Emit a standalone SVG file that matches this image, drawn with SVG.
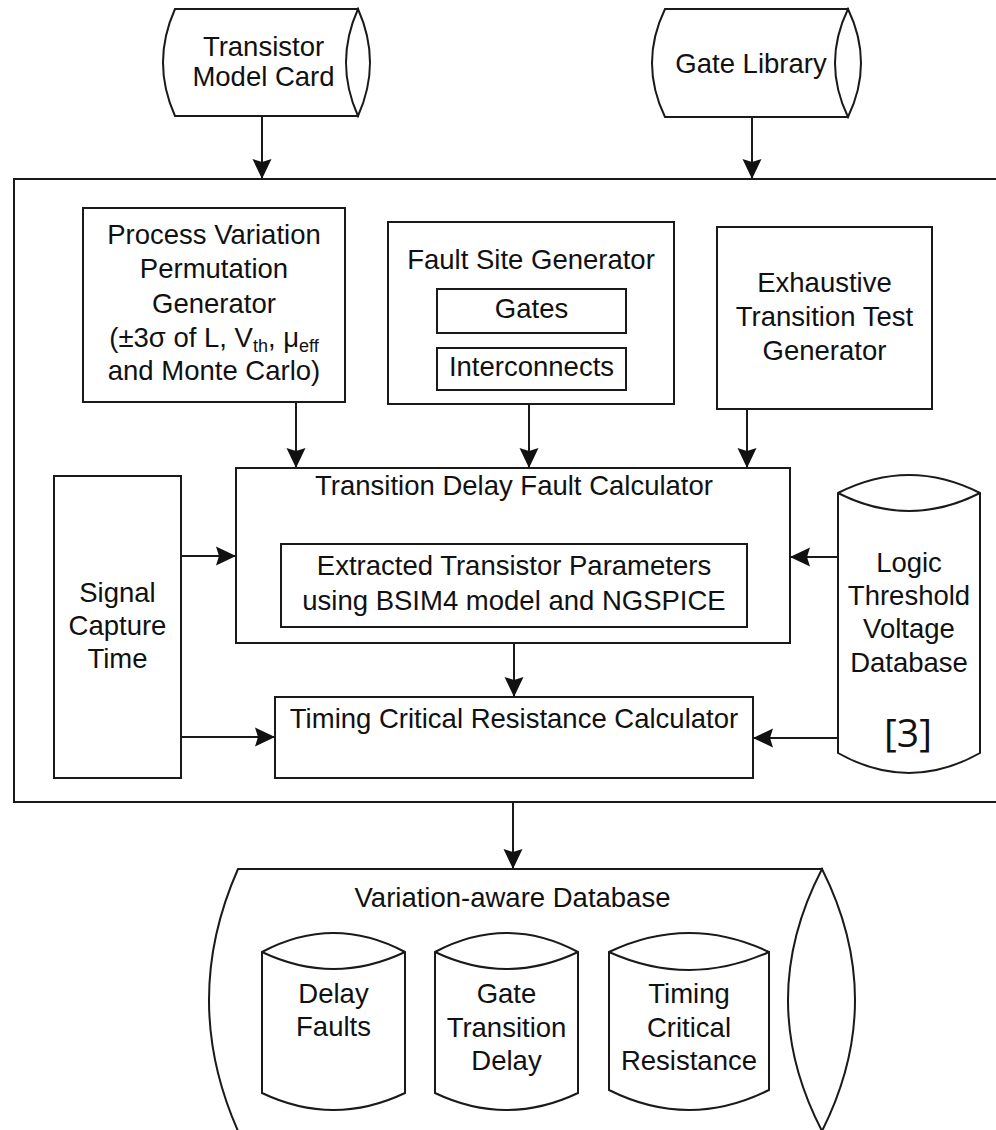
<svg xmlns="http://www.w3.org/2000/svg" width="996" height="1130" viewBox="0 0 996 1130">
<defs>
<style>
.s{fill:#fff;stroke:#1a1a1a;stroke-width:2;stroke-linejoin:miter}
.n{fill:none;stroke:#1a1a1a;stroke-width:2}
.t{font-family:"Liberation Sans",Arial,sans-serif;font-size:27.5px;fill:#111;text-anchor:middle}
.sub{font-size:18px}
.c{stroke:#1a1a1a;stroke-width:2;fill:none;marker-end:url(#ah)}
</style>
<marker id="ah" viewBox="0 0 20 20" refX="20" refY="10" markerWidth="20" markerHeight="20" markerUnits="userSpaceOnUse" orient="auto">
<path d="M0,0.5 L20,10 L0,19.5 L3,10 Z" fill="#111"/>
</marker>
</defs>
<rect width="996" height="1130" fill="#fff"/>

<g id="outer">
<rect class="n" x="14" y="179" width="1000" height="623"/>
</g>

<g id="transistor-model-card">
<path class="s" d="M175,9 H358 V116 H175 Q151,62.5 175,9 Z"/>
<path class="s" d="M358,9 Q334,62.5 358,116 Q382,62.5 358,9 Z"/>
<text class="t" x="263.5" y="56">Transistor</text>
<text class="t" x="263.5" y="86">Model Card</text>
</g>

<g id="gate-library">
<path class="s" d="M665,9 H848 V117 H665 Q639,63 665,9 Z"/>
<path class="s" d="M848,9 Q822,63 848,117 Q874,63 848,9 Z"/>
<text class="t" x="751" y="73">Gate Library</text>
</g>

<g id="process-variation">
<rect class="s" x="83" y="208" width="262" height="194"/>
<text class="t" x="214" y="244">Process Variation</text>
<text class="t" x="214" y="278">Permutation</text>
<text class="t" x="214" y="313">Generator</text>
<text class="t" x="214" y="347">(±3σ of L, V<tspan class="sub" dy="5">th</tspan><tspan dy="-5">, μ</tspan><tspan class="sub" dy="5">eff</tspan></text>
<text class="t" x="214" y="380">and Monte Carlo)</text>
</g>

<g id="fault-site-generator">
<rect class="s" x="388" y="222" width="286" height="182"/>
<text class="t" x="531" y="269">Fault Site Generator</text>
<rect class="s" x="437" y="289" width="189" height="44"/>
<text class="t" x="531.5" y="318">Gates</text>
<rect class="s" x="437" y="348" width="189" height="42"/>
<text class="t" x="531.5" y="376">Interconnects</text>
</g>

<g id="exhaustive">
<rect class="s" x="717" y="227" width="215" height="182"/>
<text class="t" x="824.5" y="292">Exhaustive</text>
<text class="t" x="824.5" y="326">Transition Test</text>
<text class="t" x="824.5" y="360">Generator</text>
</g>

<g id="tdfc">
<rect class="s" x="236" y="468" width="554" height="175"/>
<text class="t" x="514" y="495">Transition Delay Fault Calculator</text>
<rect class="s" x="281" y="544" width="466" height="83"/>
<text class="t" x="514" y="575">Extracted Transistor Parameters</text>
<text class="t" x="514" y="610">using BSIM4 model and NGSPICE</text>
</g>

<g id="signal-capture">
<rect class="s" x="54" y="476" width="127" height="302"/>
<text class="t" x="117.5" y="602">Signal</text>
<text class="t" x="117.5" y="635">Capture</text>
<text class="t" x="117.5" y="668">Time</text>
</g>

<g id="tcrc">
<rect class="s" x="275" y="697" width="478" height="81"/>
<text class="t" x="514" y="728">Timing Critical Resistance Calculator</text>
</g>

<g id="logic-threshold">
<path class="s" d="M838,493 Q909,457 980,493 V753 Q909,793 838,753 Z"/>
<path class="n" d="M838,493 Q909,529 980,493"/>
<text class="t" x="909" y="572">Logic</text>
<text class="t" x="909" y="605">Threshold</text>
<text class="t" x="909" y="638">Voltage</text>
<text class="t" x="909" y="672">Database</text>
<text x="908" y="747" style="font-family:'Open Sans','Liberation Sans',sans-serif;font-size:39px;fill:#111;text-anchor:middle">[3]</text>
</g>

<g id="variation-aware-db">
<path class="s" d="M238,869 H822 V1131 H238 Q180,1000 238,869 Z"/>
<path class="s" d="M822,869 Q754,1000 822,1131 Q888,1000 822,869 Z"/>
<text class="t" x="512.5" y="907">Variation-aware Database</text>
<g id="delay-faults">
<path class="s" d="M262,952 Q333.5,914 405,952 V1093 Q333.5,1127 262,1093 Z"/>
<path class="n" d="M262,952 Q333.5,986 405,952"/>
<text class="t" x="333.5" y="1003">Delay</text>
<text class="t" x="333.5" y="1036">Faults</text>
</g>
<g id="gate-transition-delay">
<path class="s" d="M435,952 Q506.5,914 578,952 V1093 Q506.5,1127 435,1093 Z"/>
<path class="n" d="M435,952 Q506.5,986 578,952"/>
<text class="t" x="506.5" y="1003">Gate</text>
<text class="t" x="506.5" y="1037">Transition</text>
<text class="t" x="506.5" y="1070">Delay</text>
</g>
<g id="timing-critical-resistance">
<path class="s" d="M609,952 Q689,914 769,952 V1090 Q689,1130 609,1090 Z"/>
<path class="n" d="M609,952 Q689,988 769,952"/>
<text class="t" x="689" y="1003">Timing</text>
<text class="t" x="689" y="1037">Critical</text>
<text class="t" x="689" y="1070">Resistance</text>
</g>
</g>

<g id="connectors">
<line class="c" x1="262" y1="116" x2="262" y2="179"/>
<line class="c" x1="752" y1="117" x2="752" y2="179"/>
<line class="c" x1="296" y1="402" x2="296" y2="468"/>
<line class="c" x1="529" y1="404" x2="529" y2="468"/>
<line class="c" x1="747" y1="409" x2="747" y2="468"/>
<line class="c" x1="181" y1="556" x2="236" y2="556"/>
<line class="c" x1="181" y1="737" x2="275" y2="737"/>
<line class="c" x1="838" y1="557" x2="790" y2="557"/>
<line class="c" x1="838" y1="738" x2="753" y2="738"/>
<line class="c" x1="514" y1="643" x2="514" y2="697"/>
<line class="c" x1="513" y1="802" x2="513" y2="869"/>
</g>
</svg>
